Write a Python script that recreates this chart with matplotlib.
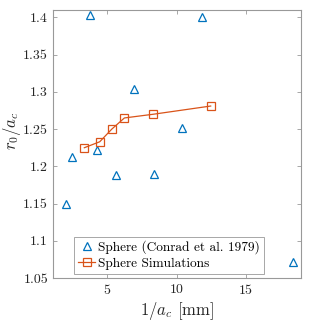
import matplotlib
matplotlib.use('Agg')
import matplotlib.pyplot as plt

plt.rcParams['font.family'] = 'serif'
plt.rcParams['font.serif'] = ['cmr10']
plt.rcParams['mathtext.fontset'] = 'cm'
plt.rcParams['axes.formatter.use_mathtext'] = True

# experimental data (Conrad et al. 1979)
exp_x = [3.73, 11.83, 6.93, 10.36, 4.26, 2.43, 5.6, 8.37, 2.0, 18.41]
exp_y = [1.403, 1.400, 1.304, 1.251, 1.222, 1.213, 1.188, 1.190, 1.150, 1.071]

# simulations
sim_x = [3.34, 4.45, 5.32, 6.23, 8.32, 12.45]
sim_y = [1.225, 1.233, 1.250, 1.265, 1.270, 1.281]

blue = '#0072BD'
orange = '#D95319'
gray = '#999999'

fig = plt.figure(figsize=(3.32, 3.21), dpi=100)
ax = fig.add_axes([0.1596, 0.134, 0.7461, 0.8348])

ax.plot(exp_x, exp_y, linestyle='none', marker='^', markersize=6,
        markerfacecolor='none', markeredgecolor=blue, markeredgewidth=0.9,
        label='Sphere (Conrad et al. 1979)')
ax.plot(sim_x, sim_y, '-s', color=orange, linewidth=0.9, markersize=6,
        markerfacecolor='none', markeredgewidth=0.9,
        label='Sphere Simulations')

ax.set_xlim(1.08, 18.94)
ax.set_ylim(1.05, 1.41)
ax.set_xticks([5, 10, 15])
ax.set_yticks([1.05, 1.1, 1.15, 1.2, 1.25, 1.3, 1.35, 1.4])
ax.set_yticklabels(['1.05', '1.1', '1.15', '1.2', '1.25', '1.3', '1.35', '1.4'])

ax.tick_params(direction='in', top=True, right=True, length=3, width=0.6,
               color=gray, labelsize=10, labelcolor='#262626')
for s in ax.spines.values():
    s.set_color(gray)
    s.set_linewidth(0.8)

ax.set_xlabel(r'$1/a_c$ [mm]', fontsize=12, color='#262626', labelpad=2)
ax.set_ylabel(r'$r_0/a_c$', fontsize=12, color='#262626')
ax.yaxis.set_label_coords(-0.12, 0.55)

leg = ax.legend(loc='lower left', bbox_to_anchor=(0.085, 0.015), fontsize=9.6,
                fancybox=False, framealpha=1, edgecolor=gray,
                handlelength=1.3, handletextpad=0.2, borderpad=0.3,
                labelspacing=0.25, borderaxespad=0)
leg.get_frame().set_linewidth(0.6)

plt.savefig('out.png', dpi=100)
